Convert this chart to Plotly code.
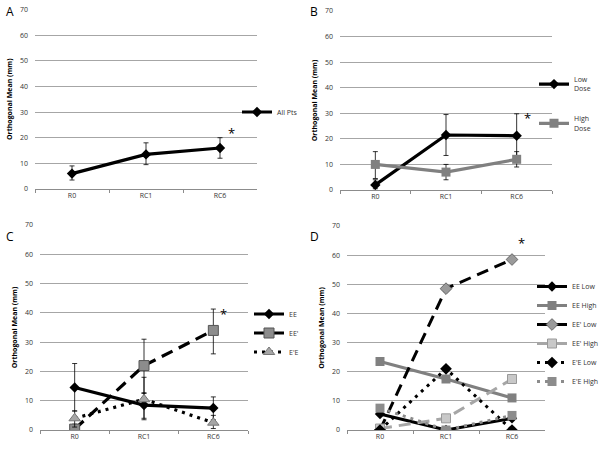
import plotly.graph_objects as go

cats = ["R0", "RC1", "RC6"]

# Panel A
a_all = [6, 13.5, 16]
a_all_lo = [3.5, 9.5, 12]
a_all_hi = [9, 18, 20]

# Panel B
b_low = [2, 21.5, 21.2]
b_low_lo = [0.5, 13.5, 12.5]
b_low_hi = [4, 29.5, 29.8]
b_high = [10, 7, 12]
b_high_lo = [4.5, 4, 9]
b_high_hi = [15, 10, 15]

# Panel C
c_ee = [14.5, 8.5, 7.5]
c_ee_lo = [6.5, 4, 3.5]
c_ee_hi = [22.7, 12.7, 11.3]
c_eep = [0.3, 22, 34]
c_eep_lo = [0, 12.5, 26]
c_eep_hi = [2, 31, 41.3]
c_epe = [4, 10.5, 2.5]
c_epe_lo = [1, 3.5, 0.5]
c_epe_hi = [6.5, 18, 5]

# Panel D
d_ee_low = [5.5, 0, 4]
d_ee_high = [23.5, 17.5, 11]
d_eep_low = [0, 48.5, 58.5]
d_eep_high = [0.5, 4, 17.5]
d_epe_low = [0, 21, 0]
d_epe_high = [7.5, 0, 5]

star_y = {"A": 22, "B": 28, "C": 39.5, "D": 64}

W, H = 607, 450
FONT = "Open Sans"
DASH = "12px,7px"
DOT = "3px,5px"

def xd(a, b):
    return [a / W, b / W]

def yd(top, bottom):
    return [1 - bottom / H, 1 - top / H]

fig = go.Figure()

def err(lo, hi, vals):
    return dict(type="data", symmetric=False,
                array=[h - v for h, v in zip(hi, vals)],
                arrayminus=[v - l for l, v in zip(lo, vals)],
                color="black", thickness=0.8, width=2.5)

# A
fig.add_trace(go.Scatter(x=cats, y=a_all, name="All Pts", mode="lines+markers",
                         line=dict(color="black", width=3.2),
                         marker=dict(symbol="diamond", size=8, color="black"),
                         error_y=err(a_all_lo, a_all_hi, a_all),
                         xaxis="x", yaxis="y", legend="legend"))
# B
fig.add_trace(go.Scatter(x=cats, y=b_low, name="Low<br>Dose", mode="lines+markers",
                         line=dict(color="black", width=3.2),
                         marker=dict(symbol="diamond", size=8, color="black"),
                         error_y=err(b_low_lo, b_low_hi, b_low),
                         xaxis="x2", yaxis="y2", legend="legend2", legendgroup="blo"))
fig.add_trace(go.Scatter(x=cats, y=b_high, name="High<br>Dose", mode="lines+markers",
                         line=dict(color="#808080", width=3.2),
                         marker=dict(symbol="square", size=9, color="#808080"),
                         error_y=err(b_high_lo, b_high_hi, b_high),
                         xaxis="x2", yaxis="y2", legend="legend2", legendgroup="bhi"))
# C
fig.add_trace(go.Scatter(x=cats, y=c_ee, name="EE", mode="lines+markers",
                         line=dict(color="black", width=3.2),
                         marker=dict(symbol="diamond", size=8, color="black"),
                         error_y=err(c_ee_lo, c_ee_hi, c_ee),
                         xaxis="x3", yaxis="y3", legend="legend3"))
fig.add_trace(go.Scatter(x=cats, y=c_eep, name="EE'", mode="lines+markers",
                         line=dict(color="black", width=3.2, dash=DASH),
                         marker=dict(symbol="square", size=10, color="#8c8c8c",
                                     line=dict(color="#555555", width=1)),
                         error_y=err(c_eep_lo, c_eep_hi, c_eep),
                         xaxis="x3", yaxis="y3", legend="legend3"))
fig.add_trace(go.Scatter(x=cats, y=c_epe, name="E'E", mode="lines+markers",
                         line=dict(color="black", width=3.2, dash=DOT),
                         marker=dict(symbol="triangle-up", size=10, color="#a6a6a6",
                                     line=dict(color="#777777", width=1)),
                         error_y=err(c_epe_lo, c_epe_hi, c_epe),
                         xaxis="x3", yaxis="y3", legend="legend3"))
# D
fig.add_trace(go.Scatter(x=cats, y=d_ee_low, name="EE Low", mode="lines+markers",
                         line=dict(color="black", width=3),
                         marker=dict(symbol="diamond", size=8, color="black"),
                         xaxis="x4", yaxis="y4", legend="legend4"))
fig.add_trace(go.Scatter(x=cats, y=d_ee_high, name="EE High", mode="lines+markers",
                         line=dict(color="#808080", width=3),
                         marker=dict(symbol="square", size=9, color="#808080"),
                         xaxis="x4", yaxis="y4", legend="legend4"))
fig.add_trace(go.Scatter(x=cats, y=d_eep_low, name="EE' Low", mode="lines+markers",
                         line=dict(color="black", width=3, dash=DASH),
                         marker=dict(symbol="diamond", size=9, color="#9a9a9a",
                                     line=dict(color="#666666", width=1)),
                         xaxis="x4", yaxis="y4", legend="legend4"))
fig.add_trace(go.Scatter(x=cats, y=d_eep_high, name="EE' High", mode="lines+markers",
                         line=dict(color="#a6a6a6", width=3, dash=DASH),
                         marker=dict(symbol="square", size=9, color="#c8c8c8",
                                     line=dict(color="#999999", width=1)),
                         xaxis="x4", yaxis="y4", legend="legend4"))
fig.add_trace(go.Scatter(x=cats, y=d_epe_low, name="E'E Low", mode="lines+markers",
                         line=dict(color="black", width=3, dash=DOT),
                         marker=dict(symbol="diamond", size=9, color="black"),
                         xaxis="x4", yaxis="y4", legend="legend4"))
fig.add_trace(go.Scatter(x=cats, y=d_epe_high, name="E'E High", mode="lines+markers",
                         line=dict(color="#8c8c8c", width=3, dash=DOT),
                         marker=dict(symbol="square", size=9, color="#8c8c8c"),
                         xaxis="x4", yaxis="y4", legend="legend4"))

tickfont = dict(family=FONT, size=7, color="#333333")

def xaxis(dom, anchor):
    return dict(domain=dom, anchor=anchor, type="category", range=[-0.5, 2.5],
                showgrid=False, showline=True, linecolor="#8c8c8c", linewidth=1,
                ticks="outside", tickson="boundaries", ticklen=3, tickcolor="#8c8c8c",
                tickfont=tickfont, zeroline=False, fixedrange=True, automargin=False)

def yaxis(dom, anchor):
    return dict(domain=dom, anchor=anchor, range=[0, 70], dtick=10,
                showgrid=True, gridcolor="#a6a6a6", gridwidth=1,
                showline=False, zeroline=False, ticks="", automargin=False,
                tickfont=tickfont, ticklabelstandoff=6,
                title=dict(text="<b>Orthogonal Mean (mm)</b>",
                           font=dict(family=FONT, size=7, color="black"), standoff=6))

legfont = dict(family=FONT, size=7, color="#333333")

def legend(x, y, gap=0):
    return dict(x=x, y=y, xanchor="left", yanchor="middle", font=legfont,
                bgcolor="rgba(0,0,0,0)", itemwidth=30, tracegroupgap=gap,
                traceorder="grouped")

fig.update_layout(
    width=W, height=H,
    margin=dict(l=0, r=0, t=0, b=0, autoexpand=False),
    paper_bgcolor="white", plot_bgcolor="white",
    showlegend=True,
    xaxis=xaxis(xd(35, 257), "y"),
    yaxis=yaxis(yd(9.5, 189), "x"),
    xaxis2=xaxis(xd(340, 552), "y2"),
    yaxis2=yaxis(yd(11, 190), "x2"),
    xaxis3=xaxis(xd(40, 248), "y3"),
    yaxis3=yaxis(yd(225, 430), "x3"),
    xaxis4=xaxis(xd(347, 545), "y4"),
    yaxis4=yaxis(yd(226, 430), "x4"),
    legend=legend(237 / W, 1 - 112 / H),
    legend2=legend(534 / W, 1 - 104 / H, gap=18),
    legend3=legend(249 / W, 1 - 333 / H),
    legend4=legend(532 / W, 1 - 334 / H),
)

annots = []
for lab, px, py in [("A", 10, 12), ("B", 314, 12), ("C", 10, 237), ("D", 314, 237)]:
    annots.append(dict(text=lab, x=px / W, y=1 - py / H, xref="paper", yref="paper",
                       showarrow=False, xanchor="center", yanchor="middle",
                       font=dict(family=FONT, size=12, color="black")))
for lab, xa, ya in [("A", "x", "y"), ("B", "x2", "y2"), ("C", "x3", "y3"), ("D", "x4", "y4")]:
    annots.append(dict(text="*", x=2.15, y=star_y[lab], xref=xa, yref=ya,
                       showarrow=False, font=dict(family=FONT, size=13, color="black")))
fig.update_layout(annotations=annots)

fig.write_html("out.html", config={"displayModeBar": False},
               post_script="document.body.style.margin='0';document.body.style.overflow='hidden';")
